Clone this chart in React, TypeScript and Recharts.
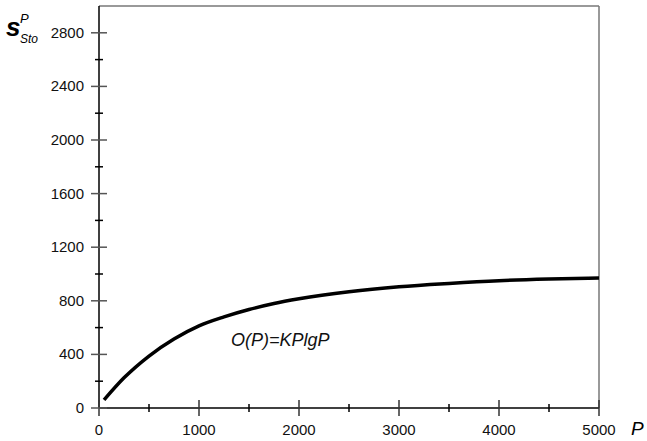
import { LineChart, Line, XAxis, YAxis, ReferenceLine } from 'recharts'

// curve O(P)
const P_VALUES = [50, 250, 500, 750, 1000, 1250, 1500, 1750, 2000, 2500, 3000, 3500, 4000, 4500, 5000]
const O_VALUES = [60, 225, 388, 515, 613, 680, 735, 780, 815, 868, 905, 930, 950, 962, 970]

const X_TICKS = [0, 500, 1000, 1500, 2000, 2500, 3000, 3500, 4000, 4500, 5000]
const Y_TICKS = [0, 200, 400, 600, 800, 1000, 1200, 1400, 1600, 1800, 2000, 2200, 2400, 2600, 2800]

const FONT = '"Liberation Sans", Arial, sans-serif'

const data = P_VALUES.map((p, i) => ({ p, o: O_VALUES[i] }))

const YTick = (props: any) => {
    const { x, y, payload } = props
    const major = payload.value % 400 === 0
    const len = major ? 8 : 4
    return (
        <g>
            <line x1={x - len} x2={x + len} y1={y} y2={y} stroke={major ? '#555' : '#000'} strokeWidth={1.5} />
            {major && (
                <text x={x - 15} y={y + 5} textAnchor="end" fontSize={15} fontFamily={FONT} fill="#111">
                    {payload.value}
                </text>
            )}
        </g>
    )
}

const XTick = (props: any) => {
    const { x, y, payload } = props
    const major = payload.value % 1000 === 0
    const len = major ? 8 : 4
    return (
        <g>
            <line x1={x} x2={x} y1={y - len} y2={y + len} stroke={major ? '#333' : '#000'} strokeWidth={1.5} />
            {major && (
                <text x={x} y={y + 27} textAnchor="middle" fontSize={15} fontFamily={FONT} fill="#111">
                    {payload.value}
                </text>
            )}
        </g>
    )
}

export default function App() {
    return (
        <div style={{ position: 'relative', width: 647, height: 441, background: '#fff' }}>
            <style>{'body{margin:0}'}</style>
            <LineChart width={647} height={441} data={data} margin={{ top: 6, right: 48, bottom: 2, left: 39 }}>
                <XAxis
                    dataKey="p"
                    type="number"
                    domain={[0, 5000]}
                    ticks={X_TICKS}
                    interval={0}
                    tickSize={0}
                    tickMargin={0}
                    tickLine={false}
                    tick={XTick}
                    axisLine={{ stroke: '#000', strokeWidth: 1.5 }}
                    height={31}
                />
                <YAxis
                    type="number"
                    domain={[0, 3000]}
                    ticks={Y_TICKS}
                    interval={0}
                    tickSize={0}
                    tickMargin={0}
                    tickLine={false}
                    tick={YTick}
                    axisLine={{ stroke: '#000', strokeWidth: 1.5 }}
                    width={60}
                />
                <ReferenceLine y={3000} stroke="#777" strokeWidth={1.5} />
                <ReferenceLine x={5000} stroke="#777" strokeWidth={1.5} />
                <Line
                    dataKey="o"
                    type="monotone"
                    stroke="#000"
                    strokeWidth={3.5}
                    dot={false}
                    isAnimationActive={false}
                />
            </LineChart>
            <svg width={647} height={441} style={{ position: 'absolute', left: 0, top: 0, pointerEvents: 'none' }}>
                <text x={6} y={36} fontSize={26} fontWeight="bold" fontStyle="italic" fontFamily={FONT} fill="#000">s</text>
                <text x={20} y={23} fontSize={13} fontStyle="italic" fontFamily={FONT} fill="#000">P</text>
                <text x={20} y={43} fontSize={12} fontStyle="italic" fontFamily={FONT} fill="#000">Sto</text>
                <text x={631} y={435} fontSize={19} fontStyle="italic" fontFamily={FONT} fill="#000">P</text>
                <text x={231} y={346} fontSize={18} fontStyle="italic" fontFamily={FONT} fill="#111">O(P)=KPlgP</text>
            </svg>
        </div>
    )
}
